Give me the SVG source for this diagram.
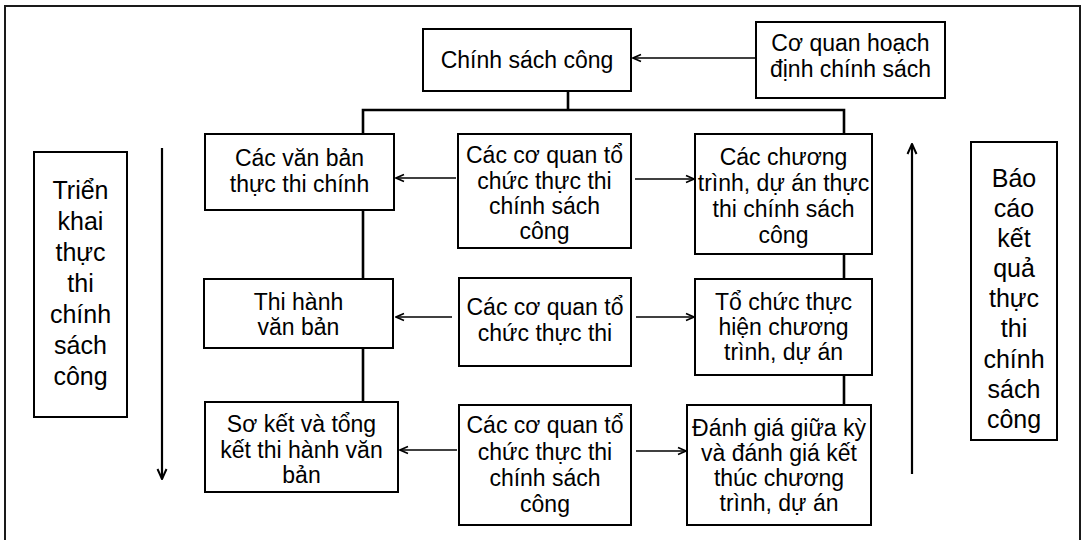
<svg xmlns="http://www.w3.org/2000/svg" width="1088" height="540" viewBox="0 0 1088 540">
  <style>
    .box { fill: #ffffff; stroke: #000000; stroke-width: 2; }
    .frame { fill: none; stroke: #1a1a1a; stroke-width: 2; }
    .t { font-family: "Liberation Sans", Arial, sans-serif; font-size: 23px; fill: #000000; text-anchor: middle; }
    .side { font-family: "Liberation Sans", Arial, sans-serif; font-size: 25px; fill: #000000; text-anchor: middle; }
    .bus { fill: none; stroke: #000000; stroke-width: 2.6; }
    .arrow { fill: none; stroke: #000000; stroke-width: 1.6; marker-end: url(#head); }
    .flow { fill: none; stroke: #000000; stroke-width: 2.2; marker-end: url(#headBig); }
  </style>
  <defs>
    <marker id="head" viewBox="0 0 10 10" refX="9" refY="5" markerWidth="10" markerHeight="10" markerUnits="userSpaceOnUse" orient="auto">
      <path d="M1,1.5 L9,5 L1,8.5" fill="none" stroke="#000000" stroke-width="1.6"/>
    </marker>
    <marker id="headBig" viewBox="0 0 12 12" refX="11" refY="6" markerWidth="12" markerHeight="12" markerUnits="userSpaceOnUse" orient="auto">
      <path d="M1,1.5 L11,6 L1,10.5" fill="none" stroke="#000000" stroke-width="2"/>
    </marker>
  </defs>

  <rect width="1088" height="540" fill="#ffffff"/>
  <!-- outer frame, open past the bottom edge -->
  <rect class="frame" x="5" y="6" width="1075" height="545"/>

  <!-- connectors -->
  <g id="connectors">
    <!-- policy trunk and branch bus -->
    <path class="bus" d="M568,91 V110"/>
    <path class="bus" d="M363,134 V110 H844 V134"/>
    <path class="bus" d="M363,210 V279"/>
    <path class="bus" d="M363,348 V402"/>
    <path class="bus" d="M844,254 V279"/>
    <path class="bus" d="M844,375 V405"/>
    <!-- horizontal arrows -->
    <line class="arrow" x1="756" y1="58" x2="633" y2="58"/>
    <line class="arrow" x1="456" y1="178" x2="396" y2="178"/>
    <line class="arrow" x1="635" y1="179" x2="694" y2="179"/>
    <line class="arrow" x1="452" y1="317" x2="396" y2="317"/>
    <line class="arrow" x1="636" y1="317" x2="694" y2="317"/>
    <line class="arrow" x1="457" y1="450" x2="400" y2="450"/>
    <line class="arrow" x1="636" y1="451" x2="686" y2="451"/>
    <!-- long process arrows -->
    <line class="flow" x1="162" y1="148" x2="162" y2="479"/>
    <line class="flow" x1="912" y1="474" x2="912" y2="144"/>
  </g>

  <g id="chinh-sach-cong">
    <rect class="box" x="423" y="29" width="208" height="62"/>
    <text class="t" x="527" y="68">Chính sách công</text>
  </g>

  <g id="co-quan-hoach-dinh">
    <rect class="box" x="756" y="22" width="189" height="76"/>
    <text class="t" x="850.5" y="51">Cơ quan hoạch</text>
    <text class="t" x="850.5" y="77">định chính sách</text>
  </g>

  <g id="van-ban-thuc-thi">
    <rect class="box" x="205" y="134" width="189" height="76"/>
    <text class="t" x="299.5" y="166">Các văn bản</text>
    <text class="t" x="299.5" y="192">thực thi chính</text>
  </g>

  <g id="co-quan-to-chuc-1">
    <rect class="box" x="458" y="134" width="173" height="114"/>
    <text class="t" x="544.5" y="163">Các cơ quan tổ</text>
    <text class="t" x="544.5" y="189">chức thực thi</text>
    <text class="t" x="544.5" y="214">chính sách</text>
    <text class="t" x="544.5" y="239">công</text>
  </g>

  <g id="chuong-trinh-du-an">
    <rect class="box" x="695" y="134" width="177" height="120"/>
    <text class="t" x="783.5" y="165">Các chương</text>
    <text class="t" x="783.5" y="191">trình, dự án thực</text>
    <text class="t" x="783.5" y="217">thi chính sách</text>
    <text class="t" x="783.5" y="243">công</text>
  </g>

  <g id="thi-hanh-van-ban">
    <rect class="box" x="204" y="279" width="189" height="69"/>
    <text class="t" x="298.5" y="310">Thi hành</text>
    <text class="t" x="298.5" y="335">văn bản</text>
  </g>

  <g id="co-quan-to-chuc-2">
    <rect class="box" x="459" y="278" width="172" height="88"/>
    <text class="t" x="545" y="315">Các cơ quan tổ</text>
    <text class="t" x="545" y="341">chức thực thi</text>
  </g>

  <g id="to-chuc-thuc-hien">
    <rect class="box" x="695" y="279" width="177" height="96"/>
    <text class="t" x="783.5" y="310">Tổ chức thực</text>
    <text class="t" x="783.5" y="335">hiện chương</text>
    <text class="t" x="783.5" y="360">trình, dự án</text>
  </g>

  <g id="so-ket-tong-ket">
    <rect class="box" x="205" y="402" width="193" height="90"/>
    <text class="t" x="301.5" y="432">Sơ kết và tổng</text>
    <text class="t" x="301.5" y="458">kết thi hành văn</text>
    <text class="t" x="301.5" y="483">bản</text>
  </g>

  <g id="co-quan-to-chuc-3">
    <rect class="box" x="459" y="405" width="172" height="120"/>
    <text class="t" x="545" y="433">Các cơ quan tổ</text>
    <text class="t" x="545" y="460">chức thực thi</text>
    <text class="t" x="545" y="486">chính sách</text>
    <text class="t" x="545" y="512">công</text>
  </g>

  <g id="danh-gia">
    <rect class="box" x="687" y="405" width="184" height="120"/>
    <text class="t" x="779" y="436">Đánh giá giữa kỳ</text>
    <text class="t" x="779" y="461">và đánh giá kết</text>
    <text class="t" x="779" y="486">thúc chương</text>
    <text class="t" x="779" y="511">trình, dự án</text>
  </g>

  <g id="trien-khai">
    <rect class="box" x="34" y="152" width="93" height="265"/>
    <text class="side" x="80.5" y="199">Triển</text>
    <text class="side" x="80.5" y="230">khai</text>
    <text class="side" x="80.5" y="261">thực</text>
    <text class="side" x="80.5" y="292">thi</text>
    <text class="side" x="80.5" y="323">chính</text>
    <text class="side" x="80.5" y="354">sách</text>
    <text class="side" x="80.5" y="385">công</text>
  </g>

  <g id="bao-cao-ket-qua">
    <rect class="box" x="971" y="142" width="86" height="298"/>
    <text class="side" x="1014" y="187">Báo</text>
    <text class="side" x="1014" y="217">cáo</text>
    <text class="side" x="1014" y="247">kết</text>
    <text class="side" x="1014" y="277">quả</text>
    <text class="side" x="1014" y="307">thực</text>
    <text class="side" x="1014" y="337">thi</text>
    <text class="side" x="1014" y="368">chính</text>
    <text class="side" x="1014" y="398">sách</text>
    <text class="side" x="1014" y="428">công</text>
  </g>
</svg>
